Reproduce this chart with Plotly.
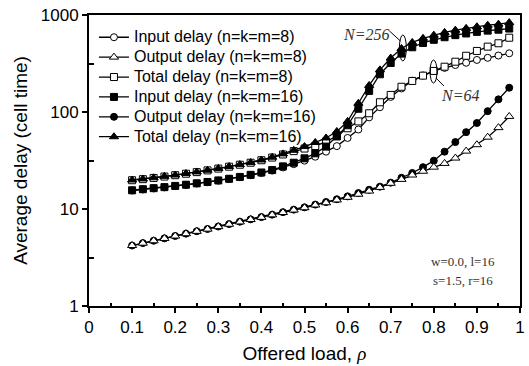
import plotly.graph_objects as go

load = [0.1, 0.125, 0.15, 0.175, 0.2, 0.225, 0.25, 0.275, 0.3, 0.325, 0.35, 0.375,
        0.4, 0.425, 0.45, 0.475, 0.5, 0.525, 0.55, 0.575, 0.6, 0.625, 0.65, 0.675,
        0.7, 0.725, 0.75, 0.775, 0.8, 0.825, 0.85, 0.875, 0.9, 0.925, 0.95, 0.975]

input8 = [15.5, 15.9, 16.3, 16.7, 17.2, 17.7, 18.3, 18.9, 19.6, 20.4, 21.3, 22.3,
          23.5, 24.9, 26.8, 29.0, 31.5, 34.6, 39.0, 44.5, 54.0, 66.0, 88.0, 112.0,
          143.0, 175.0, 210.0, 238.0, 265.0, 285.0, 305.0, 322.0, 344.0, 362.0, 382.0, 403.0]
output8 = [4.2, 4.44, 4.7, 4.97, 5.26, 5.56, 5.88, 6.2, 6.58, 6.96, 7.36, 7.78,
           8.2, 8.7, 9.2, 9.75, 10.3, 11.0, 11.6, 12.4, 13.2, 14.2, 15.3, 16.7,
           18.4, 20.2, 22.4, 24.5, 27.0, 29.5, 33.5, 39.5, 46.0, 55.0, 69.0, 90.0]
total8 = [19.8, 20.3, 20.9, 21.6, 22.3, 23.1, 24.0, 25.0, 26.1, 27.3, 28.6, 30.0,
          31.8, 33.9, 36.5, 39.5, 42.0, 44.5, 49.5, 56.5, 68.0, 80.0, 97.0, 126.0,
          150.0, 182.0, 209.0, 237.0, 265.0, 293.0, 330.0, 380.0, 426.0, 472.0, 511.0, 583.0]
input16 = [15.6, 16.0, 16.4, 16.8, 17.3, 17.8, 18.4, 19.0, 19.7, 20.5, 21.4, 22.5,
           23.8, 25.2, 27.5, 30.0, 33.3, 37.5, 44.0, 56.0, 73.0, 108.0, 165.0, 245.0,
           320.0, 400.0, 465.0, 515.0, 555.0, 590.0, 620.0, 645.0, 670.0, 690.0, 705.0, 725.0]
output16 = [4.2, 4.45, 4.71, 4.98, 5.27, 5.57, 5.9, 6.22, 6.6, 6.99, 7.4, 7.82,
            8.25, 8.75, 9.28, 9.85, 10.4, 11.1, 11.8, 12.6, 13.5, 14.6, 15.8, 17.0,
            18.7, 21.0, 23.5, 27.0, 31.5, 39.0, 49.0, 62.0, 77.0, 102.0, 135.0, 178.0]
total16 = [19.9, 20.4, 21.0, 21.7, 22.4, 23.2, 24.1, 25.1, 26.2, 27.4, 28.7, 30.1,
           32.0, 34.2, 37.0, 40.3, 44.0, 48.5, 54.0, 63.0, 80.0, 123.0, 188.0, 272.0,
           360.0, 452.0, 522.0, 575.0, 620.0, 662.0, 698.0, 728.0, 757.0, 785.0, 805.0, 835.0]

names = ["Input delay (n=k=m=8)", "Output delay (n=k=m=8)", "Total delay (n=k=m=8)",
         "Input delay (n=k=m=16)", "Output delay (n=k=m=16)", "Total delay (n=k=m=16)"]
series = [input8, output8, total8, input16, output16, total16]
symbols = ["circle", "triangle-up", "square", "square", "circle", "triangle-up"]
fills = ["white", "white", "white", "black", "black", "black"]
sizes = [7, 8, 7, 7, 7, 8]
draw_order = [0, 2, 4, 1, 3, 5]

x_ticks = [0, 0.1, 0.2, 0.3, 0.4, 0.5, 0.6, 0.7, 0.8, 0.9, 1.0]
x_ticktext = ["0", "0.1", "0.2", "0.3", "0.4", "0.5", "0.6", "0.7", "0.8", "0.9", "1"]
y_ticks = [1, 10, 100, 1000]
y_ticktext = ["1", "10", "100", "1000"]

FONT = "Arial, Liberation Sans, sans-serif"
SERIF = "Times New Roman, Liberation Serif, serif"

fig = go.Figure()
for i in draw_order:
    fig.add_trace(go.Scatter(
        x=load, y=series[i], mode="lines+markers",
        name='<span style="font-size:16px">' + names[i] + '</span>',
        legendrank=i + 1,
        line=dict(color="black", width=1.3),
        marker=dict(symbol=symbols[i], size=sizes[i], color=fills[i],
                    line=dict(color="black", width=1)),
    ))

W, H = 529, 366
L, R, T, B = 89, 4, 15, 60
pw, ph = W - L - R, H - T - B

def px(xp):
    return (xp - L) / pw

def py(yp):
    return (H - B - yp) / ph

shapes = [
    dict(type="circle", xref="paper", yref="paper",
         x0=px(403), x1=px(410), y0=py(61), y1=py(35), line=dict(color="black", width=1)),
    dict(type="line", xref="paper", yref="paper",
         x0=px(393), y0=py(31), x1=px(404), y1=py(41), line=dict(color="black", width=1)),
    dict(type="circle", xref="paper", yref="paper",
         x0=px(434), x1=px(441), y0=py(83), y1=py(60), line=dict(color="black", width=1)),
    dict(type="line", xref="paper", yref="paper",
         x0=px(440), y0=py(78), x1=px(448), y1=py(86), line=dict(color="black", width=1)),
]

annotations = [
    dict(text="<i>N=256</i>", xref="paper", yref="paper", x=px(369), y=py(34), showarrow=False,
         font=dict(family=SERIF, size=16, color="#333"), xanchor="center", yanchor="middle"),
    dict(text="<i>N=64</i>", xref="paper", yref="paper", x=px(464), y=py(95), showarrow=False,
         font=dict(family=SERIF, size=16, color="#333"), xanchor="center", yanchor="middle"),
    dict(text="w=0.0, l=16", xref="paper", yref="paper", x=px(467), y=py(261), showarrow=False,
         font=dict(family=SERIF, size=13, color="#333"), xanchor="center", yanchor="middle"),
    dict(text="s=1.5, r=16", xref="paper", yref="paper", x=px(467), y=py(280), showarrow=False,
         font=dict(family=SERIF, size=13, color="#333"), xanchor="center", yanchor="middle"),
]

fig.update_layout(
    width=W, height=H,
    margin=dict(l=L, r=R, t=T, b=B, pad=0),
    paper_bgcolor="white", plot_bgcolor="white",
    font=dict(family=FONT, size=16, color="black"),
    showlegend=True,
    legend=dict(x=0.0115, y=0.975, xanchor="left", yanchor="top",
                bgcolor="rgba(0,0,0,0)", borderwidth=0,
                font=dict(size=13, family=FONT, color="black"),
                tracegroupgap=0),
    shapes=shapes,
    annotations=annotations,
    xaxis=dict(range=[0, 1], tickvals=x_ticks, ticktext=x_ticktext,
               showgrid=False, zeroline=False, showline=True, linecolor="black", linewidth=2,
               mirror=True, ticks="outside", ticklen=5, tickwidth=1.5, tickcolor="black",
               minor=dict(tickvals=[0.05, 0.15, 0.25, 0.35, 0.45, 0.55, 0.65, 0.75, 0.85, 0.95],
                          ticks="inside", ticklen=3, tickwidth=1.5, tickcolor="black", showgrid=False),
               title=dict(text='Offered load, <span style="font-family:Liberation Serif"><i>ρ</i></span>',
                          font=dict(size=19), standoff=10),
               tickfont=dict(size=17)),
    yaxis=dict(type="log", range=[0, 3], tickvals=y_ticks, ticktext=y_ticktext,
               showgrid=False, zeroline=False, showline=True, linecolor="black", linewidth=2,
               mirror=True, ticks="outside", ticklen=5, tickwidth=1.5, tickcolor="black",
               minor=dict(tickvals=[3.162, 31.62, 316.2],
                          ticks="inside", ticklen=5, tickwidth=1.5, tickcolor="black", showgrid=False),
               title=dict(text="Average delay (cell time)", font=dict(size=19), standoff=8),
               tickfont=dict(size=17)),
)

fig.write_html("out.html")
